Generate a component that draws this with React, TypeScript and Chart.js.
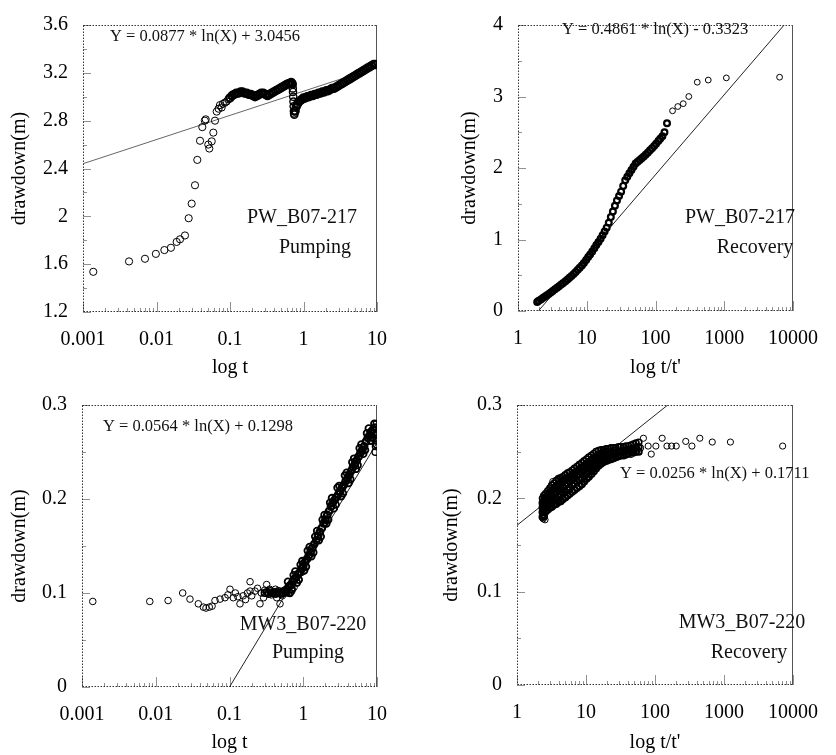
import React, { useEffect, useRef } from "react";
import { Chart, registerables } from "chart.js";

Chart.register(...registerables);

const FONT = '"Liberation Serif", "Times New Roman", Times, serif';

// ---------------- Panel 1 : PW_B07-217 Pumping ----------------
const p1XTicks = [0.001, 0.01, 0.1, 1, 10];
const p1YTicks = [1.2, 1.6, 2, 2.4, 2.8, 3.2, 3.6];
const p1YMinor = [1.4, 1.8, 2.2, 2.6, 3.0, 3.4];
const p1EarlyT = [0.00138, 0.00423, 0.00697, 0.0098, 0.0128, 0.0157, 0.0188, 0.0209, 0.0244, 0.0274, 0.0301, 0.0334, 0.0359, 0.0391, 0.042, 0.0467, 0.0455, 0.0507, 0.0523, 0.0564, 0.0593, 0.0625, 0.0659, 0.07, 0.073, 0.077, 0.08, 0.085, 0.09, 0.095];
const p1EarlyS = [1.536, 1.623, 1.645, 1.686, 1.718, 1.737, 1.786, 1.808, 1.84, 1.984, 2.106, 2.26, 2.472, 2.632, 2.746, 2.811, 2.8, 2.6, 2.567, 2.627, 2.7, 2.8, 2.876, 2.9, 2.93, 2.91, 2.94, 2.95, 2.96, 2.98];
const p1MidT = [0.1, 0.107, 0.114, 0.122, 0.13, 0.139, 0.148, 0.158, 0.169, 0.18, 0.192, 0.205, 0.219, 0.234, 0.25, 0.266, 0.284, 0.303, 0.324, 0.345, 0.368, 0.393, 0.42, 0.448, 0.478, 0.51, 0.545, 0.581, 0.62, 0.65, 0.68, 0.7];
const p1MidS = [2.99, 3.01, 3.02, 3.03, 3.03, 3.04, 3.04, 3.03, 3.03, 3.02, 3.02, 3.01, 3.0, 3.01, 3.02, 3.03, 3.03, 3.02, 3.01, 3.02, 3.03, 3.04, 3.05, 3.06, 3.07, 3.08, 3.09, 3.1, 3.11, 3.11, 3.12, 3.11];
const p1DropT = [0.71, 0.715, 0.72, 0.725, 0.73, 0.735, 0.74, 0.745, 0.75];
const p1DropS = [3.1, 3.07, 3.04, 3.0, 2.96, 2.92, 2.88, 2.86, 2.85];
const p1LateT = [0.77, 0.8, 0.83, 0.87, 0.91, 0.96, 1.0, 1.06, 1.12, 1.19, 1.26, 1.34, 1.42, 1.51, 1.6, 1.7, 1.8, 1.92, 2.04, 2.17, 2.3, 2.45, 2.6, 2.77, 2.95, 3.14, 3.34, 3.55, 3.78, 4.02, 4.28, 4.55, 4.84, 5.15, 5.48, 5.83, 6.2, 6.6, 7.02, 7.47, 7.95, 8.46, 9.0, 9.5];
const p1LateS = [2.88, 2.92, 2.94, 2.96, 2.97, 2.98, 2.99, 2.99, 3.0, 3.0, 3.01, 3.01, 3.02, 3.02, 3.03, 3.03, 3.04, 3.04, 3.05, 3.05, 3.06, 3.07, 3.07, 3.08, 3.09, 3.1, 3.11, 3.12, 3.13, 3.14, 3.15, 3.16, 3.17, 3.18, 3.19, 3.2, 3.21, 3.22, 3.23, 3.24, 3.25, 3.26, 3.27, 3.27];
const p1FitT = [0.001, 10];
const p1FitS = [2.44, 3.248];

// ---------------- Panel 2 : PW_B07-217 Recovery ----------------
const p2XTicks = [1, 10, 100, 1000, 10000];
const p2YTicks = [0, 1, 2, 3, 4];
const p2YMinor = [0.5, 1.5, 2.5, 3.5];
const p2T = [1.9, 2.0, 2.15, 2.3, 2.45, 2.6, 2.8, 3.0, 3.2, 3.45, 3.7, 3.95, 4.25, 4.55, 4.9, 5.25, 5.6, 6.0, 6.45, 6.9, 7.4, 7.9, 8.5, 9.1, 9.8, 10.5, 11.2, 12.0, 12.9, 13.8, 14.8, 15.9, 17.0, 18.2, 19.5, 20.9, 22.4, 24.0, 25.7, 27.5, 29.5, 31.6, 33.9, 36.3, 38.9, 41.7, 44.7, 47.9, 51.3, 55.0, 58.9, 63.1, 67.6, 72.4, 77.6, 83.2, 89.1, 95.5, 102, 110, 117, 126, 135, 147];
const p2S = [0.127, 0.142, 0.162, 0.182, 0.2, 0.217, 0.238, 0.258, 0.278, 0.303, 0.325, 0.346, 0.369, 0.392, 0.417, 0.442, 0.465, 0.49, 0.518, 0.546, 0.576, 0.605, 0.635, 0.672, 0.714, 0.754, 0.791, 0.831, 0.879, 0.922, 0.966, 1.012, 1.06, 1.113, 1.166, 1.235, 1.313, 1.392, 1.471, 1.547, 1.609, 1.669, 1.75, 1.828, 1.878, 1.928, 1.972, 2.017, 2.062, 2.087, 2.112, 2.136, 2.161, 2.188, 2.218, 2.247, 2.277, 2.307, 2.34, 2.377, 2.408, 2.445, 2.5, 2.626];
const p2LateT = [177, 211, 253, 305, 405, 585, 1073, 6380];
const p2LateS = [2.8, 2.86, 2.9, 3.0, 3.2, 3.23, 3.26, 3.27];
const p2FitT = [2, 7430];
const p2FitS = [0.005, 4.0];

// ---------------- Panel 3 : MW3_B07-220 Pumping ----------------
const p3XTicks = [0.001, 0.01, 0.1, 1, 10];
const p3YTicks = [0, 0.1, 0.2, 0.3];
const p3YMinor = [0.05, 0.15, 0.25];
const p3EarlyT = [0.0014, 0.0083, 0.0147, 0.0232, 0.0291, 0.0378, 0.0442, 0.048, 0.0532, 0.058, 0.0636, 0.0744, 0.0869, 0.095, 0.1016, 0.1125, 0.12, 0.13, 0.1387, 0.153, 0.165, 0.175, 0.19, 0.19, 0.2, 0.222, 0.24, 0.259, 0.27, 0.29, 0.3, 0.319, 0.33, 0.35, 0.37, 0.4, 0.42, 0.437, 0.45, 0.484, 0.5, 0.52, 0.55, 0.597, 0.6, 0.63, 0.661, 0.7, 0.75, 0.815, 0.954];
const p3EarlyS = [0.091, 0.091, 0.092, 0.1, 0.0935, 0.0885, 0.085, 0.084, 0.085, 0.086, 0.092, 0.0935, 0.095, 0.098, 0.104, 0.095, 0.1, 0.096, 0.0885, 0.097, 0.093, 0.1, 0.112, 0.102, 0.097, 0.102, 0.105, 0.0885, 0.1, 0.095, 0.103, 0.109, 0.1, 0.104, 0.098, 0.1, 0.104, 0.095, 0.101, 0.0885, 0.1, 0.097, 0.103, 0.1, 0.104, 0.1, 0.108, 0.102, 0.106, 0.116, 0.122];
const p3ClusterT = [0.3, 0.32, 0.34, 0.36, 0.38, 0.4, 0.42, 0.44, 0.46, 0.48, 0.5, 0.52, 0.54, 0.56, 0.58];
const p3ClusterS = [0.1, 0.101, 0.099, 0.102, 0.1, 0.101, 0.099, 0.1, 0.102, 0.1, 0.099, 0.101, 0.1, 0.102, 0.101];
const p3CoreT = [0.6, 0.64, 0.68, 0.72, 0.76, 0.8, 0.85, 0.9, 0.95, 1.0, 1.06, 1.12, 1.19, 1.26, 1.33, 1.41, 1.5, 1.59, 1.68, 1.78, 1.89, 2.0, 2.12, 2.24, 2.38, 2.51, 2.66, 2.82, 2.99, 3.16, 3.35, 3.55, 3.76, 3.98, 4.22, 4.47, 4.73, 5.01, 5.31, 5.62, 5.96, 6.31, 6.68, 7.08, 7.5, 7.94, 8.41, 8.91, 9.44, 9.9];
const p3CoreS = [0.104, 0.107, 0.109, 0.112, 0.115, 0.117, 0.12, 0.122, 0.126, 0.129, 0.133, 0.136, 0.14, 0.144, 0.148, 0.152, 0.156, 0.161, 0.165, 0.169, 0.174, 0.178, 0.183, 0.187, 0.192, 0.196, 0.199, 0.202, 0.205, 0.208, 0.212, 0.215, 0.219, 0.222, 0.226, 0.23, 0.234, 0.237, 0.241, 0.245, 0.249, 0.252, 0.256, 0.261, 0.265, 0.268, 0.272, 0.274, 0.276, 0.27];
const p3BandAT = [0.62, 0.7, 0.78, 0.87, 0.97, 1.09, 1.22, 1.37, 1.54, 1.73, 1.94, 2.18, 2.45, 2.75, 3.08, 3.46, 3.88, 4.35, 4.88, 5.47, 6.14, 6.89, 7.73, 8.67];
const p3BandAS = [0.112, 0.104, 0.123, 0.114, 0.134, 0.128, 0.149, 0.143, 0.166, 0.16, 0.183, 0.178, 0.201, 0.194, 0.214, 0.206, 0.228, 0.221, 0.243, 0.236, 0.258, 0.252, 0.275, 0.265];
const p3BandBT = [0.66, 0.74, 0.82, 0.92, 1.03, 1.15, 1.29, 1.45, 1.63, 1.83, 2.06, 2.31, 2.6, 2.91, 3.27, 3.67, 4.12, 4.62, 5.18, 5.81, 6.51, 7.31, 8.2, 9.2];
const p3BandBS = [0.1, 0.119, 0.111, 0.13, 0.124, 0.145, 0.139, 0.16, 0.156, 0.178, 0.174, 0.196, 0.19, 0.212, 0.203, 0.225, 0.217, 0.239, 0.232, 0.254, 0.248, 0.27, 0.262, 0.28];
const p3EndT = [9.5, 9.6, 9.7, 9.75, 9.8, 9.85, 9.9, 9.95];
const p3EndS = [0.25, 0.256, 0.262, 0.268, 0.274, 0.28, 0.258, 0.265];
const p3FitT = [0.1, 10];
const p3FitS = [0.0, 0.2597];

// ---------------- Panel 4 : MW3_B07-220 Recovery ----------------
const p4XTicks = [1, 10, 100, 1000, 10000];
const p4YTicks = [0, 0.1, 0.2, 0.3];
const p4YMinor = [0.05, 0.15, 0.25];
const p4T = [2.35, 2.45, 2.6, 2.8, 3.0, 3.2, 3.45, 3.7, 4.0, 4.3, 4.6, 5.0, 5.4, 5.8, 6.3, 6.8, 7.4, 8.0, 8.7, 9.4, 10.2, 11.0, 12.0, 13.0, 14.0, 15.2, 16.5, 18.0, 19.5, 21, 23, 25, 27, 29.5, 32, 35, 38, 41, 45, 49, 53, 58];
const p4LoS = [0.18, 0.182, 0.186, 0.188, 0.19, 0.191, 0.193, 0.194, 0.196, 0.197, 0.199, 0.201, 0.203, 0.205, 0.207, 0.209, 0.211, 0.213, 0.215, 0.218, 0.221, 0.223, 0.226, 0.229, 0.232, 0.235, 0.237, 0.239, 0.24, 0.241, 0.242, 0.243, 0.244, 0.245, 0.246, 0.246, 0.247, 0.248, 0.249, 0.249, 0.25, 0.25];
const p4MidS = [0.19, 0.192, 0.196, 0.198, 0.201, 0.203, 0.205, 0.207, 0.209, 0.21, 0.212, 0.214, 0.216, 0.218, 0.22, 0.222, 0.224, 0.226, 0.228, 0.23, 0.232, 0.234, 0.236, 0.238, 0.24, 0.242, 0.244, 0.245, 0.246, 0.247, 0.248, 0.248, 0.249, 0.25, 0.25, 0.251, 0.251, 0.252, 0.252, 0.253, 0.254, 0.255];
const p4HiS = [0.2, 0.203, 0.205, 0.208, 0.211, 0.214, 0.216, 0.219, 0.221, 0.222, 0.223, 0.225, 0.227, 0.228, 0.23, 0.232, 0.234, 0.236, 0.238, 0.24, 0.242, 0.244, 0.246, 0.248, 0.25, 0.251, 0.252, 0.252, 0.253, 0.253, 0.254, 0.254, 0.254, 0.255, 0.255, 0.255, 0.256, 0.256, 0.257, 0.258, 0.259, 0.26];
const p4InnerT = [2.35, 2.45, 2.6, 2.8, 3.0, 3.2, 3.45, 3.7, 4.0, 4.3, 4.6, 5.0, 5.4, 5.8, 6.3, 6.8, 7.4, 8.0, 8.7, 9.4, 10.2, 11.0, 12.0, 13.0, 14.0, 15.2, 16.5, 18.0, 19.5];
const p4Q1S = [0.185, 0.187, 0.191, 0.193, 0.195, 0.197, 0.199, 0.2, 0.202, 0.204, 0.206, 0.207, 0.209, 0.211, 0.214, 0.216, 0.218, 0.22, 0.221, 0.224, 0.226, 0.229, 0.231, 0.233, 0.236, 0.238, 0.24, 0.242, 0.243];
const p4Q2S = [0.195, 0.197, 0.201, 0.203, 0.206, 0.208, 0.211, 0.213, 0.215, 0.216, 0.218, 0.22, 0.221, 0.223, 0.225, 0.227, 0.229, 0.231, 0.233, 0.235, 0.237, 0.239, 0.241, 0.243, 0.245, 0.246, 0.248, 0.249, 0.25];
const p4ExtraT = [2.4, 2.5, 2.55, 2.7, 3.3, 4.06, 45];
const p4ExtraS = [0.178, 0.18, 0.177, 0.2, 0.218, 0.219, 0.247];
const p4TailT = [62, 68, 79.6, 88.3, 103, 127, 149, 174, 203, 279, 343, 446, 676, 1239, 7080];
const p4TailS = [0.254, 0.2644, 0.256, 0.2474, 0.256, 0.2644, 0.256, 0.256, 0.256, 0.261, 0.256, 0.2644, 0.2603, 0.2603, 0.256];
const p4FitT = [1, 153];
const p4FitS = [0.1711, 0.3];

// ---------------------------------------------------------------
type TextItem = { text: string; x: number; y: number; size: number; align: CanvasTextAlign };
type Series = { t: number[]; s: number[]; bw?: number };
type PanelCfg = {
  left: number; top: number; w: number; h: number;
  areaL: number; areaT: number; padR: number; axisH: number;
  xMin: number; xMax: number; xTicks: number[];
  yMin: number; yMax: number; yTicks: number[]; yMinor: number[];
  xTitle: string; yTitlePad: number;
  series: Series[]; fit: Series; fitColor: string; fitWidth: number; radius: number;
  texts: TextItem[];
};

const zip = (t: number[], s: number[]) => t.map((v, i) => ({ x: v, y: s[i] }));

const panels: PanelCfg[] = [
  {
    left: 0, top: 0, w: 418, h: 380, areaL: 83, areaT: 17, padR: 41, axisH: 68,
    xMin: 0.001, xMax: 10, xTicks: p1XTicks, yMin: 1.2, yMax: 3.6, yTicks: p1YTicks, yMinor: p1YMinor,
    xTitle: "log t", yTitlePad: 8,
    series: [
      { t: p1EarlyT, s: p1EarlyS },
      { t: p1MidT, s: p1MidS, bw: 2.2 },
      { t: p1DropT, s: p1DropS, bw: 1.4 },
      { t: p1LateT, s: p1LateS, bw: 2.2 },
    ],
    fit: { t: p1FitT, s: p1FitS }, fitColor: "#555", fitWidth: 0.9, radius: 3.6,
    texts: [
      { text: "Y = 0.0877 * ln(X) + 3.0456", x: 110, y: 37, size: 16.5, align: "left" },
      { text: "PW_B07-217", x: 302, y: 218, size: 20, align: "center" },
      { text: "Pumping", x: 315, y: 248, size: 20, align: "center" },
    ],
  },
  {
    left: 418, top: 0, w: 418, h: 380, areaL: 100, areaT: 15, padR: 25, axisH: 69,
    xMin: 1, xMax: 10000, xTicks: p2XTicks, yMin: 0, yMax: 4, yTicks: p2YTicks, yMinor: p2YMinor,
    xTitle: "log t/t'", yTitlePad: 40,
    series: [{ t: p2T, s: p2S, bw: 2.2 }, { t: p2LateT, s: p2LateS }],
    fit: { t: p2FitT, s: p2FitS }, fitColor: "#222", fitWidth: 1, radius: 2.9,
    texts: [
      { text: "Y = 0.4861 * ln(X) - 0.3323", x: 144, y: 30, size: 16.5, align: "left" },
      { text: "PW_B07-217", x: 322, y: 218, size: 20, align: "center" },
      { text: "Recovery", x: 337, y: 248, size: 20, align: "center" },
    ],
  },
  {
    left: 0, top: 380, w: 418, h: 375, areaL: 82, areaT: 12, padR: 41, axisH: 68,
    xMin: 0.001, xMax: 10, xTicks: p3XTicks, yMin: 0, yMax: 0.3, yTicks: p3YTicks, yMinor: p3YMinor,
    xTitle: "log t", yTitlePad: 8,
    series: [
      { t: p3EarlyT, s: p3EarlyS },
      { t: p3ClusterT, s: p3ClusterS, bw: 1.6 },
      { t: p3CoreT, s: p3CoreS, bw: 2.2 },
      { t: p3BandAT, s: p3BandAS, bw: 1.8 },
      { t: p3BandBT, s: p3BandBS, bw: 1.8 },
      { t: p3EndT, s: p3EndS, bw: 1.4 },
    ],
    fit: { t: p3FitT, s: p3FitS }, fitColor: "#222", fitWidth: 1, radius: 3.3,
    texts: [
      { text: "Y = 0.0564 * ln(X) + 0.1298", x: 103, y: 47, size: 16.5, align: "left" },
      { text: "MW3_B07-220", x: 303, y: 245, size: 20, align: "center" },
      { text: "Pumping", x: 308, y: 273, size: 20, align: "center" },
    ],
  },
  {
    left: 418, top: 380, w: 418, h: 375, areaL: 99, areaT: 10, padR: 25, axisH: 70,
    xMin: 1, xMax: 10000, xTicks: p4XTicks, yMin: 0, yMax: 0.3, yTicks: p4YTicks, yMinor: p4YMinor,
    xTitle: "log t/t'", yTitlePad: 22,
    series: [
      { t: p4T, s: p4LoS, bw: 2 },
      { t: p4T, s: p4MidS, bw: 2 },
      { t: p4T, s: p4HiS, bw: 1.6 },
      { t: p4InnerT, s: p4Q1S, bw: 2 },
      { t: p4InnerT, s: p4Q2S, bw: 2 },
      { t: p4ExtraT, s: p4ExtraS },
      { t: p4TailT, s: p4TailS },
    ],
    fit: { t: p4FitT, s: p4FitS }, fitColor: "#222", fitWidth: 1, radius: 3.1,
    texts: [
      { text: "Y = 0.0256 * ln(X) + 0.1711", x: 202, y: 94, size: 16.5, align: "left" },
      { text: "MW3_B07-220", x: 324, y: 243, size: 20, align: "center" },
      { text: "Recovery", x: 331, y: 273, size: 20, align: "center" },
    ],
  },
];

function makeDecor(p: PanelCfg) {
  return {
    id: "decor",
    beforeDatasetsDraw(chart: any) {
      const { ctx, chartArea: a } = chart;
      const xs = chart.scales.x;
      const ys = chart.scales.y;
      const L = Math.round(a.left) + 0.5;
      const R = Math.round(a.right) - 0.5;
      const T = Math.round(a.top) + 0.5;
      const B = Math.round(a.bottom) - 0.5;
      ctx.save();
      ctx.strokeStyle = "#333";
      ctx.lineWidth = 1;
      ctx.setLineDash([1.5, 1.5]);
      ctx.beginPath();
      ctx.moveTo(L, T);
      ctx.lineTo(R, T);
      ctx.moveTo(L, B);
      ctx.lineTo(R, B);
      ctx.moveTo(L, T);
      ctx.lineTo(L, B);
      ctx.stroke();
      ctx.setLineDash([]);
      ctx.strokeStyle = "#555";
      ctx.beginPath();
      ctx.moveTo(R, T - 0.5);
      ctx.lineTo(R, B + 0.5);
      ctx.stroke();

      // tick marks (inside the frame)
      ctx.setLineDash([1, 1]);
      ctx.strokeStyle = "#222";
      ctx.beginPath();
      const minorX: number[] = [];
      for (let i = 0; i < p.xTicks.length - 1; i++) {
        for (let k = 2; k <= 9; k++) minorX.push(p.xTicks[i] * k);
      }
      p.xTicks.forEach((v) => {
        const px = Math.round(xs.getPixelForValue(v)) + 0.5;
        ctx.moveTo(px, B);
        ctx.lineTo(px, B - 9);
      });
      minorX.forEach((v) => {
        const px = Math.round(xs.getPixelForValue(v)) + 0.5;
        ctx.moveTo(px, B);
        ctx.lineTo(px, B - 4);
      });
      p.yTicks.forEach((v) => {
        const py = Math.round(ys.getPixelForValue(v)) + 0.5;
        ctx.moveTo(L, py);
        ctx.lineTo(L + 8, py);
      });
      p.yMinor.forEach((v) => {
        const py = Math.round(ys.getPixelForValue(v)) + 0.5;
        ctx.moveTo(L, py);
        ctx.lineTo(L + 4, py);
      });
      ctx.stroke();
      ctx.restore();
    },
    afterDraw(chart: any) {
      const { ctx } = chart;
      ctx.save();
      ctx.fillStyle = "#111";
      ctx.textBaseline = "middle";
      p.texts.forEach((t) => {
        ctx.font = `${t.size}px ${FONT}`;
        ctx.textAlign = t.align;
        ctx.fillText(t.text, t.x, t.y);
      });
      ctx.restore();
    },
  };
}

function ChartPanel({ p }: { p: PanelCfg }) {
  const ref = useRef<HTMLCanvasElement | null>(null);
  useEffect(() => {
    if (!ref.current) return;
    const pointSets = p.series.map((s) => ({
      type: "scatter" as const,
      data: zip(s.t, s.s),
      showLine: false,
      pointRadius: p.radius,
      pointHoverRadius: p.radius,
      pointBorderColor: "#000",
      pointBackgroundColor: "rgba(0,0,0,0)",
      pointBorderWidth: s.bw ?? 1,
      order: 1,
    }));
    const fitSet = {
      type: "line" as const,
      data: zip(p.fit.t, p.fit.s),
      showLine: true,
      borderColor: p.fitColor,
      borderWidth: p.fitWidth,
      pointRadius: 0,
      fill: false,
      tension: 0,
      order: 2,
    };
    const tickFont = { family: FONT, size: 20, lineHeight: 1 };
    const chart = new Chart(ref.current, {
      type: "scatter",
      data: { datasets: [...pointSets, fitSet] as any },
      options: {
        responsive: false,
        animation: false,
        devicePixelRatio: 1,
        events: [],
        layout: { padding: { left: 0, top: p.areaT, right: p.padR, bottom: 0 } },
        plugins: { legend: { display: false }, tooltip: { enabled: false } },
        scales: {
          x: {
            type: "logarithmic",
            position: "bottom",
            min: p.xMin,
            max: p.xMax,
            afterBuildTicks: (s: any) => {
              s.ticks = p.xTicks.map((v) => ({ value: v }));
            },
            afterFit: (s: any) => {
              s.height = p.axisH;
            },
            grid: { display: false, drawTicks: false },
            border: { display: false },
            ticks: {
              color: "#000",
              font: tickFont,
              padding: 18,
              maxRotation: 0,
              autoSkip: false,
              callback: (v: any) => String(v),
            },
            title: {
              display: true,
              text: p.xTitle,
              color: "#000",
              font: { family: FONT, size: 20, lineHeight: 1.2 },
              padding: { top: 0, bottom: 0 },
            },
          },
          y: {
            type: "linear",
            position: "left",
            min: p.yMin,
            max: p.yMax,
            afterBuildTicks: (s: any) => {
              s.ticks = p.yTicks.map((v) => ({ value: v }));
            },
            afterFit: (s: any) => {
              s.width = p.areaL;
            },
            grid: { display: false, drawTicks: false },
            border: { display: false },
            ticks: {
              color: "#000",
              font: tickFont,
              padding: 15,
              callback: (v: any) => String(v),
            },
            title: {
              display: true,
              text: "drawdown(m)",
              color: "#000",
              font: { family: FONT, size: 20, lineHeight: 1.2 },
              padding: { top: p.yTitlePad, bottom: 0 },
            },
          },
        },
      } as any,
      plugins: [makeDecor(p)],
    });
    return () => chart.destroy();
  }, [p]);
  return (
    <canvas
      ref={ref}
      width={p.w}
      height={p.h}
      style={{ position: "absolute", left: p.left, top: p.top, width: p.w, height: p.h, display: "block" }}
    />
  );
}

export default function App() {
  return (
    <div
      style={{
        position: "absolute",
        left: 0,
        top: 0,
        width: 836,
        height: 755,
        overflow: "hidden",
        background: "#fff",
      }}
    >
      {panels.map((p, i) => (
        <ChartPanel key={i} p={p} />
      ))}
    </div>
  );
}
